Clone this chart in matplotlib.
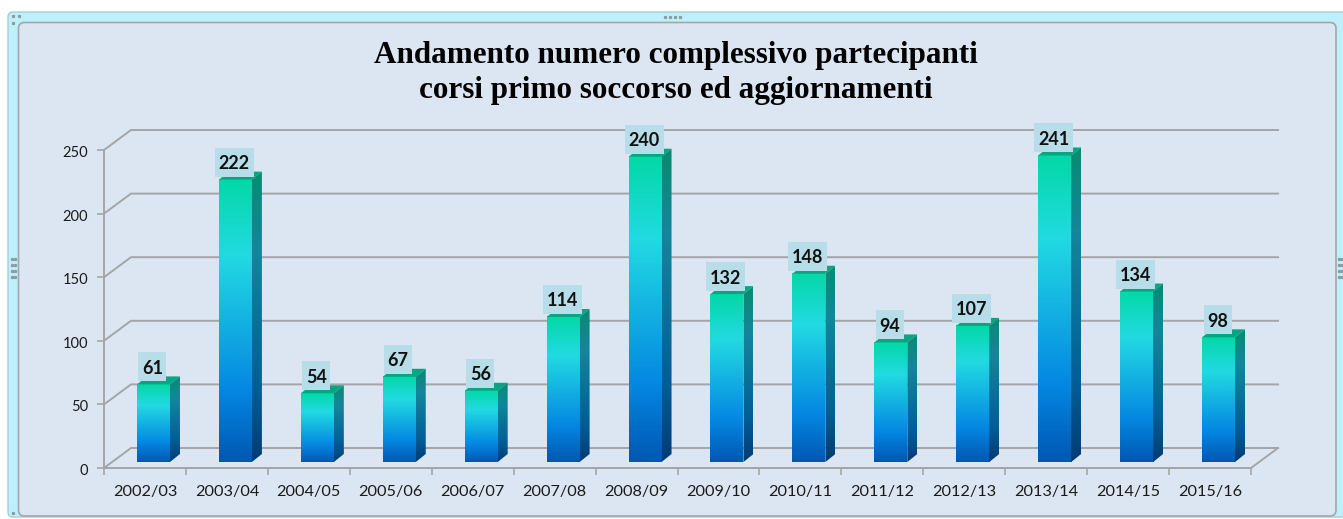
import matplotlib
matplotlib.use("Agg")
import matplotlib.pyplot as plt
import numpy as np
from matplotlib.colors import LinearSegmentedColormap
from matplotlib.patches import FancyBboxPatch, Polygon, Rectangle
from matplotlib.transforms import Affine2D

# Data
seasons = ["2002/03", "2003/04", "2004/05", "2005/06", "2006/07", "2007/08", "2008/09",
           "2009/10", "2010/11", "2011/12", "2012/13", "2013/14", "2014/15", "2015/16"]
participants = [61, 222, 54, 67, 56, 114, 240, 132, 148, 94, 107, 241, 134, 98]
y_ticks = [0, 50, 100, 150, 200, 250]
title_lines = ["Andamento numero complessivo partecipanti", "corsi primo soccorso ed aggiornamenti"]

W, H = 1343, 519
fig = plt.figure(figsize=(W / 100, H / 100), dpi=100, facecolor="white")

# Frame drawn in pixel coordinates
bg = fig.add_axes([0, 0, 1, 1], zorder=0)
bg.set_xlim(0, W)
bg.set_ylim(H, 0)
bg.axis("off")
bg.add_patch(FancyBboxPatch((8, 12), 1345, 505, boxstyle="round,pad=0,rounding_size=5",
                            fc="#BDF0FA", ec="#A9CBD3", lw=1))
bg.add_patch(FancyBboxPatch((18.5, 22.5), 1317.5, 493.5, boxstyle="round,pad=0,rounding_size=6",
                            fc="#DCE6F2", ec="#A6A6A6", lw=1.2))
for px in [665, 670, 675, 680]:
    bg.plot(px, 17, "s", ms=1.3, color="#8C9BA0")
for py in [259, 265, 271, 277]:
    bg.plot([12, 15, 1339, 1342], [py] * 4, "s", ms=1.3, color="#8C9BA0")
bg.plot([13, 19, 13], [16, 16, 23], "s", ms=1.3, color="#8C9BA0")
bg.plot(13, 513, "s", ms=1.3, color="#8C9BA0")

# Plot area: front plane of the 3D box
px_per_unit = 318 / 250
px_per_cat = 1147 / 14
y_top = 270
ax_h = y_top * px_per_unit
ax = fig.add_axes([104 / W, (H - 468) / H, 1147 / W, ax_h / H], zorder=1)
ax.patch.set_alpha(0)

wall_dx = 27 / px_per_cat
wall_dy = 20 / px_per_unit
bar_dx = 8.5 / px_per_cat
bar_floor = 6 / px_per_unit
side_dx = 10 / px_per_cat
side_dy = 8 / px_per_unit
bar_w = 33 / px_per_cat
grid_c = "#A3A5A8"

# Back wall grid and side wall diagonals
for t in y_ticks:
    ax.plot([0, wall_dx, 14 + wall_dx], [t, t + wall_dy, t + wall_dy], color=grid_c, lw=1.4,
            clip_on=False, zorder=1, solid_joinstyle="miter")
ax.plot([14, 14 + wall_dx], [0, wall_dy], color=grid_c, lw=1.4, clip_on=False, zorder=1)

front_cmap = LinearSegmentedColormap.from_list(
    "front", [(0, "#03D8A6"), (0.27, "#22DAE2"), (0.75, "#0487E2"), (1, "#0057B2")])
side_cmap = LinearSegmentedColormap.from_list(
    "side", [(0, "#078C70"), (0.27, "#15859C"), (0.75, "#005E96"), (1, "#003B74")])
grad = np.linspace(0, 1, 256).reshape(-1, 1)

for i, v in enumerate(participants):
    x0 = i + 0.5 + bar_dx - bar_w / 2
    x1 = x0 + bar_w
    y0 = bar_floor
    y1 = y0 + v

    ax.imshow(grad, cmap=front_cmap, extent=[x0, x1, y0, y1], aspect="auto",
              interpolation="bilinear", zorder=3 + i)
    top = Polygon([(x0, y1), (x1, y1), (x1 + side_dx, y1 + side_dy), (x0 + side_dx, y1 + side_dy)],
                  closed=True, fc="#07A584", ec="none", zorder=3 + i)
    ax.add_patch(top)
    side = Polygon([(x1, y0), (x1 + side_dx, y0 + side_dy), (x1 + side_dx, y1 + side_dy), (x1, y1)],
                   closed=True, fc="none", ec="none", transform=ax.transData)
    ax.add_patch(side)
    im = ax.imshow(grad, cmap=side_cmap, extent=[x1, x1 + side_dx, y0, y1 + side_dy], aspect="auto",
                   interpolation="bilinear", zorder=3 + i)
    im.set_clip_path(side)

    # value label on its pale box
    cx = (x0 + x1) / 2 - 1 / px_per_cat
    box_w = (6 + 11 * len(str(v))) / px_per_cat
    box_h = 29 / px_per_unit
    box_y = y1 + 3 / px_per_unit
    ax.add_patch(Rectangle((cx - box_w / 2, box_y), box_w, box_h, fc="#B7DDE8", ec="none",
                           zorder=40, clip_on=False))
    ax.text(cx, box_y + box_h / 2, str(v), ha="center", va="center_baseline", fontsize=13,
            fontweight="bold", family="Lato", color="#111111", zorder=41)

ax.set_xlim(0, 14)
ax.set_ylim(0, y_top)

# Axes
for s in ["top", "right"]:
    ax.spines[s].set_visible(False)
for s in ["left", "bottom"]:
    ax.spines[s].set_color(grid_c)
    ax.spines[s].set_linewidth(1.4)
ax.spines["left"].set_bounds(0, 250)
ax.set_yticks(y_ticks)
ax.set_xticks(np.arange(15))
ax.set_xticklabels([])
ax.set_xticks(np.arange(14) + 0.5, seasons, minor=True)
ax.tick_params(axis="x", which="major", length=5, width=1.2, color=grid_c)
ax.tick_params(axis="x", which="minor", length=0, pad=12, labelsize=11.7, labelcolor="#1A1A1A")
ax.tick_params(axis="y", length=5, width=1.2, color=grid_c, pad=6.5, labelsize=10.5, labelcolor="#1A1A1A")
for lab in ax.get_xticklabels(minor=True) + ax.get_yticklabels():
    lab.set_family("Lato")
for lab in ax.get_yticklabels():
    lab.set_transform(lab.get_transform() + Affine2D().translate(0, -1.5))

for line, py in zip(title_lines, [63, 98]):
    bg.text(676, py, line, ha="center", va="baseline", fontsize=22.4, fontweight="bold",
            family="Liberation Serif", color="black")

fig.savefig("out.png", dpi=100)
